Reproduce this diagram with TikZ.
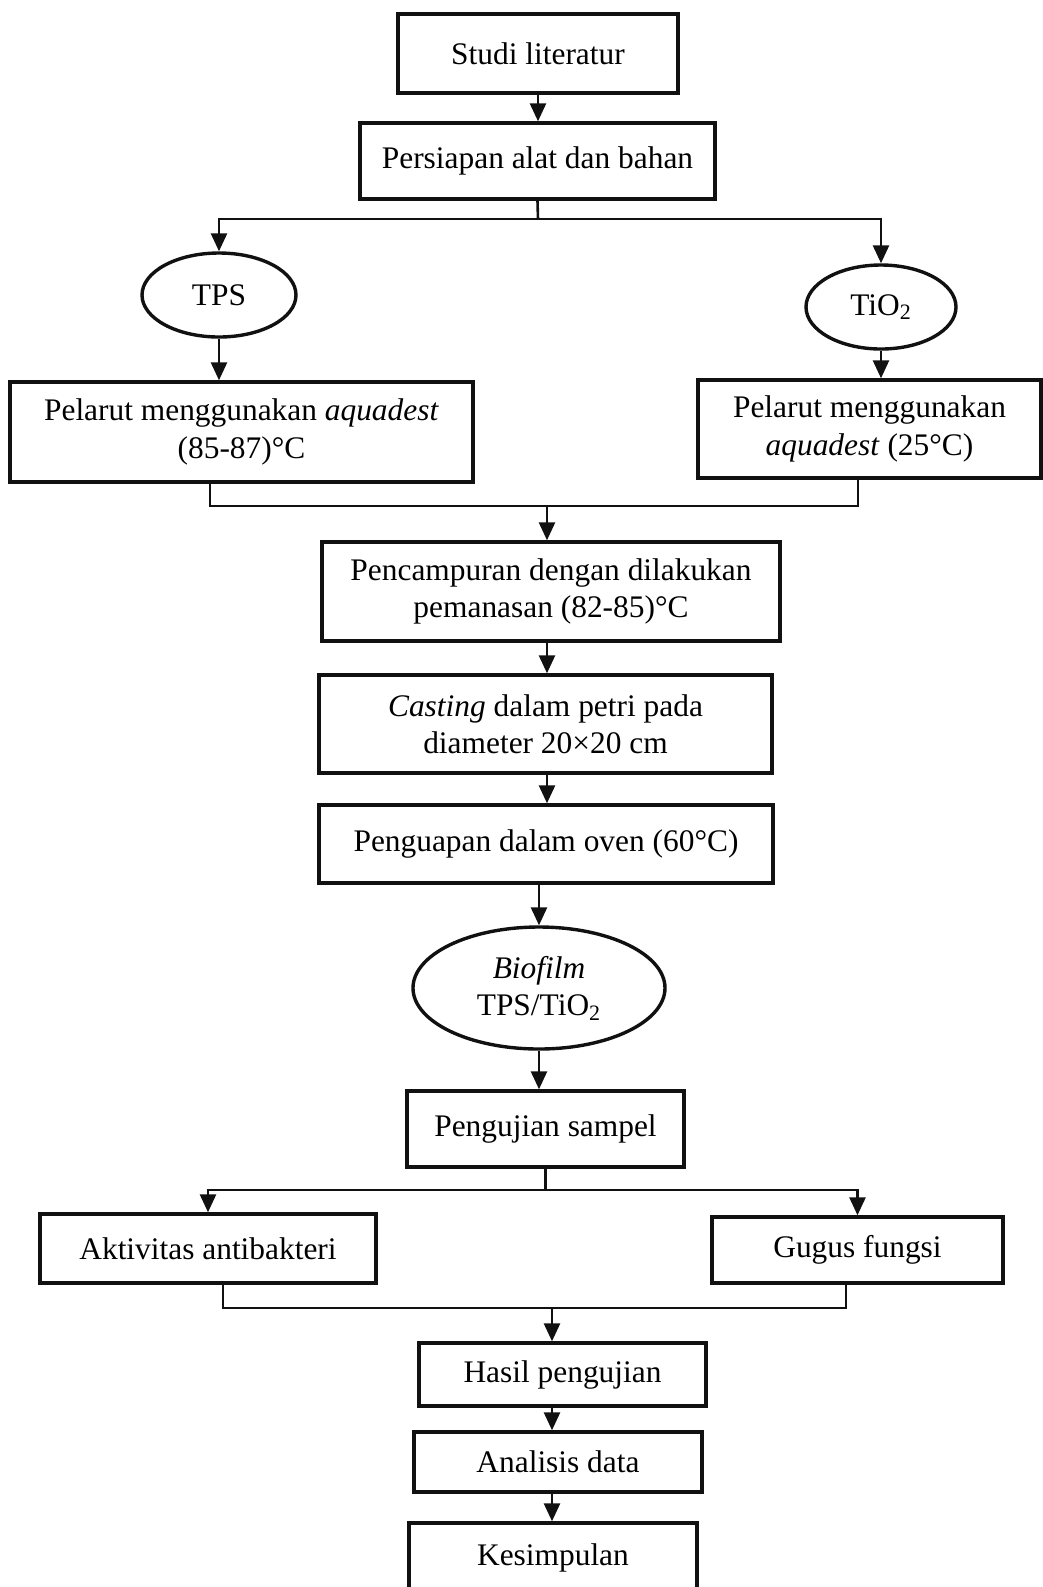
\documentclass[tikz,border=0pt]{standalone}
\usepackage{fontspec}
\setmainfont{Liberation Serif}
\usepackage{tikz}
\usetikzlibrary{calc,arrows.meta,positioning,shapes.geometric}
\definecolor{inkc}{HTML}{111111}
\tikzset{
  ar/.style={-{Triangle[length=9pt,width=8pt]},line width=1.3pt,inkc},
  ln/.style={line width=1.3pt,inkc},
  box/.style={draw=inkc,line width=1.7pt,align=center,inner sep=2pt,font=\fontsize{15.7}{18.7}\selectfont},
  oval/.style={ellipse,draw=inkc,line width=1.7pt,align=center,inner sep=0pt,font=\fontsize{15.7}{18.7}\selectfont}
}

\begin{document}
\begin{tikzpicture}[x=0.5pt,y=-0.5pt]
\useasboundingbox (0,0) rectangle (1043,1587);
\node[box,minimum width=140pt,minimum height=39.5pt] (studi) at (538,53.5) {Studi literatur};
\node[box,minimum width=177.5pt,minimum height=38pt] (siap) at (537.5,161) {Persiapan alat dan bahan};
\node[oval,minimum width=77pt,minimum height=42pt] (tps) at (219,295) {TPS};
\node[oval,minimum width=75pt,minimum height=42pt] (tio) at (881,307) {TiO\textsubscript{2}};
\node[box,minimum width=231.5pt,minimum height=50pt] (pelA) at (241.5,432) {Pelarut menggunakan \textit{aquadest}\\(85-87)°C};
\node[box,minimum width=171.5pt,minimum height=49pt] (pelB) at (869.5,429) {Pelarut menggunakan\\\textit{aquadest} (25°C)};
\node[box,minimum width=229pt,minimum height=49.5pt] (campur) at (551,591.5) {Pencampuran dengan dilakukan\\pemanasan (82-85)°C};
\node[box,minimum width=226.5pt,minimum height=49pt] (cast) at (545.5,724) {\textit{Casting} dalam petri pada\\diameter 20×20 cm};
\node[box,minimum width=227pt,minimum height=39pt] (uap) at (546,844) {Penguapan dalam oven (60°C)};
\node[oval,minimum width=126pt,minimum height=61pt] (bio) at (539,988) {\textit{Biofilm}\\TPS/TiO\textsubscript{2}};
\node[box,minimum width=138.5pt,minimum height=38pt] (uji) at (545.5,1129) {Pengujian sampel};
\node[box,minimum width=168pt,minimum height=34.5pt] (anti) at (208,1248.5) {Aktivitas antibakteri};
\node[box,minimum width=145.5pt,minimum height=33pt] (gugus) at (857.5,1250) {Gugus fungsi};
\node[box,minimum width=143.5pt,minimum height=31.5pt] (hasil) at (562.5,1374.5) {Hasil pengujian};
\node[box,minimum width=144pt,minimum height=30pt] (anal) at (558,1462) {Analisis data};
\node[box,minimum width=144pt,minimum height=35pt] (simpul) at (553,1558) {Kesimpulan};

\draw[ar] (studi.south) -- (studi.south |- siap.north);
\coordinate (sp1) at (538,219);
\draw[ln] (siap.south) -- (sp1);
\draw[ar] (sp1) -| (tps.north);
\draw[ar] (sp1) -| (tio.north);
\draw[ar] (tps.south) -- (tps.south |- pelA.north);
\draw[ar] (tio.south) -- (tio.south |- pelB.north);
\coordinate (jn1) at (547,506);
\draw[ln] ([xshift=-15.75pt]pelA.south) |- (jn1) -| ([xshift=-5.75pt]pelB.south);
\draw[ar] (jn1) -- (jn1 |- campur.north);
\draw[ar] (campur.south -| jn1) -- (jn1 |- cast.north);
\draw[ar] (cast.south -| jn1) -- (jn1 |- uap.north);
\draw[ar] (uap.south -| bio) -- (bio.north);
\draw[ar] (bio.south) -- (bio.south |- uji.north);
\coordinate (sp2) at (545,1190);
\draw[ln] (uji.south) -- (uji.south |- sp2);
\draw[ar] (sp2) -| (anti.north);
\draw[ar] (sp2) -| (gugus.north);
\coordinate (jn2) at (552,1308);
\draw[ln] ([xshift=7.5pt]anti.south) |- (jn2) -| ([xshift=-5.75pt]gugus.south);
\draw[ar] (jn2) -- (jn2 |- hasil.north);
\draw[ar] (hasil.south -| jn2) -- (jn2 |- anal.north);
\draw[ar] (anal.south -| jn2) -- (jn2 |- simpul.north);
\end{tikzpicture}
\end{document}
